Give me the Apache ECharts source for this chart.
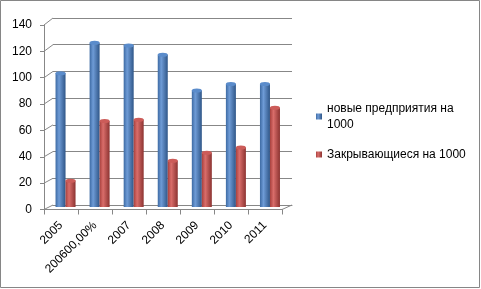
<!DOCTYPE html>
<html><head><meta charset="utf-8">
<script src="https://cdn.jsdelivr.net/npm/echarts@6/dist/echarts.min.js"></script>
<style>html,body{margin:0;padding:0;background:#fff}#c{width:481px;height:289px}</style>
</head><body><div id="c"></div>
<script>
// ---- data ----
const categories = ['2005', '200600,00%', '2007', '2008', '2009', '2010', '2011'];
const newEnterprises = [101, 124, 122, 115, 88, 93, 93];
const closing = [20, 65, 66, 35, 41, 45, 75];
const seriesNames = ['новые предприятия на 1000', 'Закрывающиеся на 1000'];
const legendLabels = ['новые предприятия на\n1000', 'Закрывающиеся на 1000'];
const yTicks = [0, 20, 40, 60, 80, 100, 120, 140];

// ---- layout ----
const FONT = 'Liberation Sans';
const BACK = {left: 53, top: 18, width: 239, height: 187};
const MID = {left: 48.5, top: 21.5, width: 238.5, height: 185.5};
const FRONT = {left: 44, top: 25, width: 238, height: 184.5};
const gridColor = '#878787';
const BW = 10;

const yMin = yTicks[0], yMax = yTicks[yTicks.length - 1], yStep = yTicks[1] - yTicks[0];

function cyl(c1, c2, c3) {
  return new echarts.graphic.LinearGradient(0, 0, 1, 0, [
    {offset: 0, color: c1}, {offset: 0.35, color: c2}, {offset: 1, color: c3}
  ]);
}
const blueFill = cyl('#3d6aa3', '#6e9bd6', '#2f5688');
const redFill = cyl('#a8403d', '#d96d6a', '#8c3331');

const chart = echarts.init(document.getElementById('c'), null, {renderer: 'canvas'});

function yAxisBase(gi) {
  return {
    type: 'value', gridIndex: gi, min: yMin, max: yMax, interval: yStep,
    axisLine: {show: false}, axisTick: {show: false}, axisLabel: {show: false},
    splitLine: {show: false}
  };
}
function xAxisBase(gi) {
  return {
    type: 'category', gridIndex: gi, data: categories,
    axisLine: {show: false}, axisTick: {show: false}, axisLabel: {show: false},
    splitLine: {show: false}
  };
}

const back = {xa: xAxisBase(0), ya: yAxisBase(0)};
back.ya.splitLine = {show: true, lineStyle: {color: gridColor, width: 1}};
back.xa.axisLine = {show: true, onZero: false, lineStyle: {color: gridColor}};

const front = {xa: xAxisBase(2), ya: yAxisBase(2)};
front.ya.axisLine = {show: true, lineStyle: {color: gridColor}};
front.ya.axisTick = {show: true, length: 4, lineStyle: {color: gridColor}};
front.ya.axisLabel = {show: true, color: '#000', fontFamily: FONT, fontSize: 12, margin: 12};
front.xa.axisLine = {show: true, onZero: false, lineStyle: {color: gridColor}};
front.xa.axisTick = {show: true, length: 5, lineStyle: {color: gridColor}};
front.xa.axisLabel = {show: true, color: '#000', fontFamily: FONT, fontSize: 12, rotate: 45, margin: 14, interval: 0};

const option = {
  animation: false,
  backgroundColor: '#fff',
  grid: [
    Object.assign({containLabel: false}, BACK),
    Object.assign({containLabel: false}, MID),
    Object.assign({containLabel: false}, FRONT)
  ],
  xAxis: [back.xa, xAxisBase(1), front.xa],
  yAxis: [back.ya, yAxisBase(1), front.ya],
  legend: [
    {
      data: [seriesNames[0]], orient: 'vertical', left: 316, top: 92.5, padding: 0,
      itemWidth: 6, itemHeight: 6, icon: 'rect',
      formatter: () => legendLabels[0],
      textStyle: {color: '#000', fontFamily: FONT, fontSize: 12, lineHeight: 16, padding: [16, 0, 0, 0]}
    },
    {
      data: [seriesNames[1]], orient: 'vertical', left: 316, top: 146.5, padding: 0,
      itemWidth: 6, itemHeight: 6, icon: 'rect',
      formatter: () => legendLabels[1],
      textStyle: {color: '#000', fontFamily: FONT, fontSize: 12, lineHeight: 16}
    }
  ],
  series: [
    {name: seriesNames[0], type: 'bar', xAxisIndex: 1, yAxisIndex: 1, data: newEnterprises,
     barWidth: BW, barGap: '0%', itemStyle: {color: blueFill}},
    {name: seriesNames[1], type: 'bar', xAxisIndex: 1, yAxisIndex: 1, data: closing,
     barWidth: BW, barGap: '0%', itemStyle: {color: redFill}},
    {name: seriesNames[0], type: 'pictorialBar', xAxisIndex: 1, yAxisIndex: 1, data: newEnterprises,
     barWidth: BW, barGap: '0%', symbol: 'circle', symbolSize: [BW, 4], symbolPosition: 'end',
     symbolOffset: [0, '-50%'], z: 3, itemStyle: {color: '#5b8ccb', borderColor: '#35609a', borderWidth: 0.5}},
    {name: seriesNames[1], type: 'pictorialBar', xAxisIndex: 1, yAxisIndex: 1, data: closing,
     barWidth: BW, barGap: '0%', symbol: 'circle', symbolSize: [BW, 4], symbolPosition: 'end',
     symbolOffset: [0, '-50%'], z: 3, itemStyle: {color: '#cc5c59', borderColor: '#9a3a38', borderWidth: 0.5}}
  ],
  graphic: []
};
chart.setOption(option);

// frame and diagonal connectors between front axis and back wall
const g = [{type: 'rect', shape: {x: 0.5, y: 0.5, width: 479, height: 287}, style: {fill: null, stroke: '#868686', lineWidth: 1}, silent: true, z: -1}];
yTicks.forEach(v => {
  const yf = chart.convertToPixel({yAxisIndex: 2}, v);
  const yb = chart.convertToPixel({yAxisIndex: 0}, v);
  g.push({type: 'line', shape: {x1: FRONT.left, y1: yf, x2: BACK.left, y2: yb}, style: {stroke: gridColor, lineWidth: 1}, silent: true});
});
{
  const yf = chart.convertToPixel({yAxisIndex: 2}, yMin);
  const yb = chart.convertToPixel({yAxisIndex: 0}, yMin);
  g.push({type: 'line', shape: {x1: FRONT.left + FRONT.width, y1: yf, x2: BACK.left + BACK.width, y2: yb}, style: {stroke: gridColor, lineWidth: 1}, silent: true});
}
chart.setOption({graphic: g});
</script>
</body></html>
